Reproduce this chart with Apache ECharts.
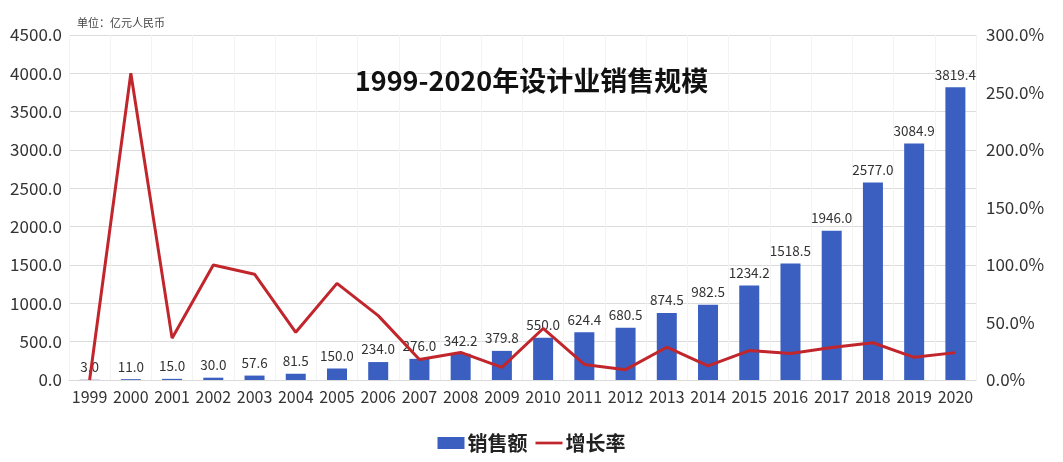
<!DOCTYPE html>
<html><head><meta charset="utf-8">
<script src="https://cdn.jsdelivr.net/npm/echarts@6/dist/echarts.min.js"></script>
<style>html,body{margin:0;padding:0;background:#fff}#c{width:1063px;height:462px}</style>
</head><body><div id="c"></div>
<script>
const years = ['1999','2000','2001','2002','2003','2004','2005','2006','2007','2008','2009','2010','2011','2012','2013','2014','2015','2016','2017','2018','2019','2020'];
const sales = [3.0,11.0,15.0,30.0,57.6,81.5,150.0,234.0,276.0,342.2,379.8,550.0,624.4,680.5,874.5,982.5,1234.2,1518.5,1946.0,2577.0,3084.9,3819.4];
const growth = [0,266.7,36.4,100.0,92.0,41.5,84.0,56.0,17.9,24.0,11.0,44.8,13.5,9.0,28.5,12.3,25.6,23.0,28.2,32.4,19.7,23.8];
const leftTicks = {min:0, max:4500, interval:500};
const rightTicks = {min:0, max:300, interval:50};
const font = '"Noto Sans CJK SC", "Noto Sans", sans-serif';
const chart = echarts.init(document.getElementById('c'));
chart.setOption({
  animation:false,
  textStyle:{fontFamily:font},
  title:[
    {text:'1999-2020年设计业销售规模', left:'center', top:62, textStyle:{fontSize:27, fontWeight:'bold', color:'#111', fontFamily:font}},
    {text:'单位：亿元人民币', left:72, top:12, textStyle:{fontSize:11, fontWeight:'normal', color:'#444', fontFamily:font}}
  ],
  legend:{top:428, left:'center', itemGap:8, itemWidth:27, itemHeight:12,
    textStyle:{fontSize:20, fontWeight:'bold', color:'#222', fontFamily:font, padding:[0,0,0,-2]},
    data:[{name:'销售额', icon:'rect'},{name:'增长率', icon:'path://M0 0H100V10H0Z'}]},
  grid:{left:69, right:87, top:35, bottom:82},
  xAxis:{type:'category', data:years,
    axisLine:{lineStyle:{color:'#d9d9d9'}}, axisTick:{show:false},
    axisLabel:{fontSize:16, color:'#333', margin:9, interval:0},
    splitLine:{show:true, lineStyle:{color:'#f3f3f3'}}},
  yAxis:[
    {type:'value', min:leftTicks.min, max:leftTicks.max, interval:leftTicks.interval,
      axisLabel:{fontSize:17, color:'#333', margin:7, formatter:v=>v.toFixed(1)},
      axisLine:{show:false}, axisTick:{show:false},
      splitLine:{lineStyle:{color:'#dcdcdc'}}},
    {type:'value', min:rightTicks.min, max:rightTicks.max, interval:rightTicks.interval,
      axisLabel:{fontSize:17, color:'#333', margin:10, formatter:v=>v.toFixed(1)+'%'},
      axisLine:{show:false}, axisTick:{show:false}, splitLine:{show:false}}
  ],
  series:[
    {name:'销售额', type:'bar', data:sales, barWidth:20, itemStyle:{color:'#3a5fc1'},
      label:{show:true, position:'top', fontSize:13.5, color:'#333', distance:6, formatter:p=>p.value.toFixed(1)}},
    {name:'增长率', type:'line', yAxisIndex:1, data:growth, symbol:'none',
      lineStyle:{color:'#c0262c', width:3}, itemStyle:{color:'#c0262c'}, z:5}
  ]
});
</script></body></html>
